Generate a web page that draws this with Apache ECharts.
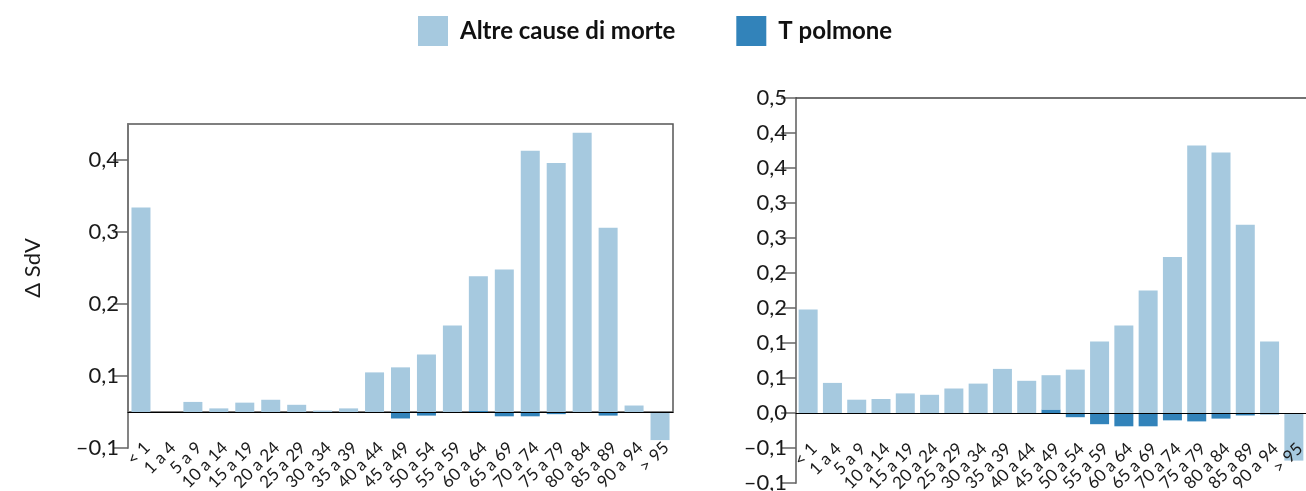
<!DOCTYPE html>
<html>
<head>
<meta charset="utf-8">
<script src="https://cdn.jsdelivr.net/npm/echarts@6/dist/echarts.min.js"></script>
<style>
  html, body { margin: 0; padding: 0; background: #fff; }
  #chart { width: 1306px; height: 491px; }
</style>
</head>
<body>
<div id="chart"></div>
<script>
const categories = ['< 1', '1 a 4', '5 a 9', '10 a 14', '15 a 19', '20 a 24', '25 a 29', '30 a 34', '35 a 39', '40 a 44',
  '45 a 49', '50 a 54', '55 a 59', '60 a 64', '65 a 69', '70 a 74', '75 a 79', '80 a 84', '85 a 89', '90 a 94', '> 95'];

const seriesNames = ['Altre cause di morte', 'T polmone'];

// Left panel
const leftAltre = [0.284, 0, 0.014, 0.005, 0.013, 0.017, 0.010, 0.002, 0.005, 0.055,
  0.062, 0.080, 0.120, 0.187, 0.198, 0.363, 0.346, 0.388, 0.256, 0.009, -0.039];
const leftPolmone = [0, 0, 0, 0, 0, 0, 0, 0, 0, 0,
  -0.009, -0.005, 0, 0.0015, -0.006, -0.006, -0.003, 0, -0.005, 0, 0];
const leftTicks = [-0.05, 0.05, 0.15, 0.25, 0.35];
const leftMin = -0.05, leftMax = 0.40;

// Right panel
const rightAltre = [0.148, 0.043, 0.019, 0.020, 0.028, 0.026, 0.035, 0.042, 0.063, 0.046,
  0.049, 0.062, 0.102, 0.125, 0.175, 0.223, 0.382, 0.372, 0.269, 0.102, -0.068];
const rightPolmone = [0, 0, 0, 0, 0, 0, 0, 0, 0, 0,
  0.005, -0.006, -0.016, -0.019, -0.019, -0.0105, -0.012, -0.008, -0.0035, -0.002, 0];
const rightMin = -0.10, rightMax = 0.45, rightInterval = 0.05;

const yAxisName = 'Δ SdV';

const LIGHT = '#a6c9df';
const DARK = '#3283ba';
const FONT = 'Lato, "Open Sans", sans-serif';

const leftGridH = 324, rightGridH = 385;
// shift the category axis from the grid bottom up to the zero line
const leftZeroOffset = -leftGridH * (0 - leftMin) / (leftMax - leftMin);
const rightZeroOffset = -rightGridH * (0 - rightMin) / (rightMax - rightMin);

function fmt(v) {
  const r = Math.round(Math.abs(v) * 10 + 1e-9) / 10;
  return (v < -1e-9 ? '\u2013' : '') + r.toFixed(1).replace('.', ',');
}

const catLabel = {
  rotate: 45, margin: 27, fontSize: 17, fontFamily: FONT, color: '#1a1a1a',
  verticalAlign: 'top', interval: 0
};
const valLabel = { fontSize: 22, fontFamily: FONT, color: '#1a1a1a', margin: 9, formatter: fmt };
const tickStyle = { show: true, length: 15, lineStyle: { color: '#666', width: 1.5 } };

const chart = echarts.init(document.getElementById('chart'), null, { renderer: 'canvas' });
chart.setOption({
  animation: false,
  backgroundColor: '#fff',
  legend: {
    data: seriesNames,
    left: 418, top: 16, padding: 0,
    itemWidth: 30, itemHeight: 30, itemGap: 61,
    icon: 'rect',
    textStyle: { fontFamily: FONT, fontSize: 24, fontWeight: 'bold', color: '#111', padding: [0, 0, 0, 7] }
  },
  grid: [
    { left: 128, top: 124, width: 545, height: 288, show: true, borderColor: '#555', borderWidth: 1.5,
      backgroundColor: 'transparent', outerBoundsMode: 'none', containLabel: false },
    { left: 128, top: 124, width: 545, height: leftGridH, outerBoundsMode: 'none', containLabel: false },
    { left: 796, top: 98, right: 0, height: rightGridH, outerBoundsMode: 'none', containLabel: false }
  ],
  xAxis: [
    { gridIndex: 0, type: 'category', data: categories, show: false },
    { gridIndex: 1, type: 'category', data: categories, z: 3, offset: leftZeroOffset,
      axisLine: { onZero: false, lineStyle: { color: '#000', width: 1.2 } },
      axisTick: { show: false }, axisLabel: catLabel },
    { gridIndex: 2, type: 'category', data: categories, z: 3, offset: rightZeroOffset,
      axisLine: { onZero: false, lineStyle: { color: '#000', width: 1.2 } },
      axisTick: { show: false }, axisLabel: catLabel },
    { gridIndex: 2, type: 'category', data: categories, position: 'top',
      axisLine: { onZero: false, lineStyle: { color: '#444', width: 1.5 } },
      axisTick: { show: false }, axisLabel: { show: false } }
  ],
  yAxis: [
    { gridIndex: 0, type: 'value', min: 0, max: 0.4,
      axisLine: { show: false }, axisTick: { show: false }, axisLabel: { show: false }, splitLine: { show: false },
      name: yAxisName, nameLocation: 'middle', nameRotate: 90, nameGap: 84,
      nameTextStyle: { fontFamily: FONT, fontSize: 22, color: '#1a1a1a' } },
    { gridIndex: 1, type: 'value', min: leftMin, max: leftMax,
      axisLine: { show: true, lineStyle: { color: '#777', width: 1.8 } },
      axisTick: Object.assign({ customValues: leftTicks }, tickStyle),
      axisLabel: Object.assign({ customValues: leftTicks }, valLabel),
      splitLine: { show: false } },
    { gridIndex: 2, type: 'value', min: rightMin, max: rightMax, interval: rightInterval,
      axisLine: { show: true, lineStyle: { color: '#777', width: 1.8 } },
      axisTick: tickStyle,
      axisLabel: valLabel,
      splitLine: { show: false } }
  ],
  series: [
    { name: 'T polmone', type: 'bar', xAxisIndex: 1, yAxisIndex: 1, stack: 'L', data: leftPolmone,
      barWidth: 19, itemStyle: { color: DARK } },
    { name: 'Altre cause di morte', type: 'bar', xAxisIndex: 1, yAxisIndex: 1, stack: 'L', data: leftAltre,
      barWidth: 19, itemStyle: { color: LIGHT } },
    { name: 'T polmone', type: 'bar', xAxisIndex: 2, yAxisIndex: 2, stack: 'R', data: rightPolmone,
      barWidth: 19, itemStyle: { color: DARK } },
    { name: 'Altre cause di morte', type: 'bar', xAxisIndex: 2, yAxisIndex: 2, stack: 'R', data: rightAltre,
      barWidth: 19, itemStyle: { color: LIGHT } }
  ]
});
</script>
</body>
</html>
